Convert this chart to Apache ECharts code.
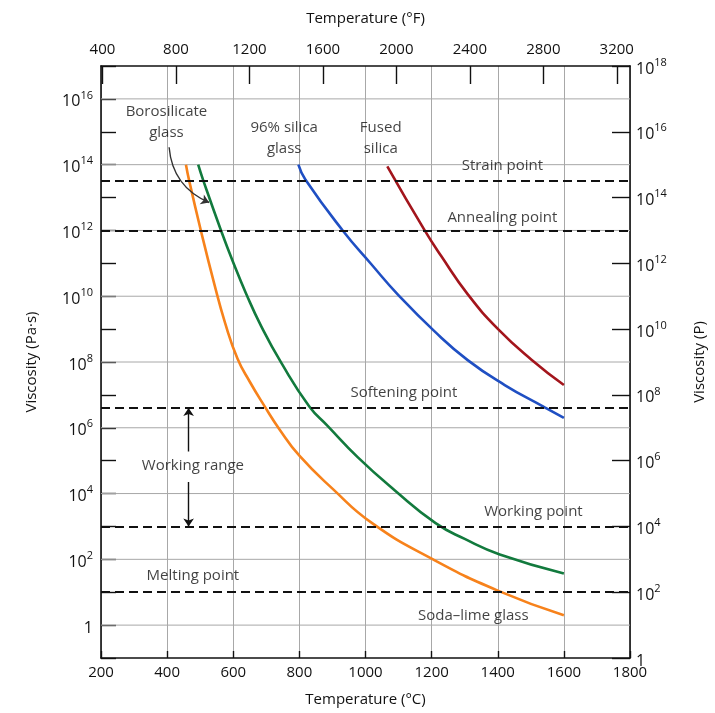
<!DOCTYPE html>
<html>
<head>
<meta charset="utf-8">
<title>Viscosity of glasses vs temperature</title>
<script src="https://cdn.jsdelivr.net/npm/echarts@6/dist/echarts.min.js"></script>
<style>
  html, body { margin: 0; padding: 0; background: #fff; }
  #chart { width: 715px; height: 713px; }
</style>
</head>
<body>
<div id="chart"></div>
<script>
// temperatures in °C, viscosity as log10 of Pa·s
var sodaLimeT   = [457, 467, 502, 542, 575, 613, 650, 695, 740, 800, 900, 1020, 1200, 1400, 1600];
var sodaLimeLog = [14.0, 13.5, 12.0, 10.4, 9.2, 8.1, 7.4, 6.65, 5.95, 5.15, 4.15, 3.1, 2.02, 1.05, 0.3];

var boroT   = [494, 510, 563, 603, 638, 684, 745, 830, 886, 977, 1088, 1212, 1300, 1406, 1600];
var boroLog = [14.0, 13.5, 12.0, 10.95, 10.1, 9.1, 7.98, 6.65, 6.05, 5.1, 4.1, 3.1, 2.62, 2.15, 1.57];

var silica96T   = [797, 818, 931, 1017, 1098, 1209, 1310, 1421, 1542, 1600];
var silica96Log = [14.0, 13.55, 12.0, 10.98, 10.05, 8.93, 8.05, 7.3, 6.62, 6.3];

var fusedT   = [1066, 1179, 1229, 1310, 1401, 1502, 1600];
var fusedLog = [13.95, 12.0, 11.22, 10.05, 9.0, 8.07, 7.3];

// strain, annealing, softening, working, melting (log10 Pa·s)
var refLevels = [13.5, 12, 6.6, 3, 1];

var fahrenheitTicks = [400, 800, 1200, 1600, 2000, 2400, 2800, 3200];
var gridLevels = [0, 2, 4, 6, 8, 10, 12, 14, 16];
var tempRange = [200, 1800];

// text notes: [°C, log10 Pa·s, text]
var notes = [
  [398, 15.3, 'Borosilicate\nglass'],
  [754, 14.8, '96% silica\nglass'],
  [1046, 14.8, 'Fused\nsilica'],
  [1414, 13.96, 'Strain point'],
  [1414, 12.4, 'Annealing point'],
  [1116, 7.06, 'Softening point'],
  [478, 4.85, 'Working range'],
  [1508, 3.46, 'Working point'],
  [478, 1.5, 'Melting point'],
  [1326, 0.3, 'Soda\u2013lime glass']
];

function pairs(xs, ys) {
  return xs.map(function (x, i) { return [x, ys[i]]; });
}

var FONT = 'Open Sans';
var TXT = '#111';
var GRID = '#a8a8a8';

function powLabel(v) {
  if (v === 0) return '{b|1}';
  return '{b|10}{s|' + v + '}';
}
var richPow = {
  b: { fontSize: 16, fontFamily: FONT, color: TXT, lineHeight: 22, verticalAlign: 'bottom' },
  s: { fontSize: 11, fontFamily: FONT, color: TXT, lineHeight: 22, verticalAlign: 'bottom', padding: [0, 0, 9, 0] }
};
function plain(v) { return String(v); }

var chart = echarts.init(document.getElementById('chart'));

function curve(name, color, xs, ys) {
  return {
    name: name, type: 'line', smooth: 0.5, symbol: 'none',
    xAxisIndex: 0, yAxisIndex: 0, z: 4,
    lineStyle: { color: color, width: 2.6 },
    data: pairs(xs, ys)
  };
}

// one plain line series per horizontal grid line
var gridSeries = gridLevels.map(function (v) {
  return {
    name: 'grid' + v, type: 'line', symbol: 'none', silent: true,
    xAxisIndex: 0, yAxisIndex: 0, z: 2,
    lineStyle: { color: GRID, width: 1 },
    data: [[tempRange[0], v], [tempRange[1], v]]
  };
});

var frameLine = { onZero: false, lineStyle: { color: '#111', width: 1.6 } };
var nameStyle = { fontSize: 15, color: TXT, fontFamily: FONT };

var option = {
  backgroundColor: '#fff',
  animation: false,
  textStyle: { fontFamily: FONT },
  grid: { left: 101, right: 85, top: 66, bottom: 55 },
  xAxis: [
    {
      type: 'value', position: 'bottom', min: 200, max: 1800, interval: 200,
      name: 'Temperature (\u00b0C)', nameLocation: 'middle', nameGap: 34, nameTextStyle: nameStyle,
      axisLine: frameLine,
      axisTick: { inside: true, length: 7, lineStyle: { color: '#111', width: 1.4 } },
      axisLabel: { fontSize: 15, color: TXT, margin: 7, formatter: plain },
      splitLine: { show: true, lineStyle: { color: GRID, width: 1 } }
    },
    {
      type: 'value', position: 'top', min: 392, max: 3272,
      name: 'Temperature (\u00b0F)', nameLocation: 'middle', nameGap: 40, nameTextStyle: nameStyle,
      axisLine: frameLine,
      axisTick: { inside: true, length: 18, customValues: fahrenheitTicks, lineStyle: { color: '#111', width: 1.4 } },
      axisLabel: { fontSize: 15, color: TXT, margin: 9, customValues: fahrenheitTicks, formatter: plain },
      splitLine: { show: false }
    }
  ],
  yAxis: [
    {
      type: 'value', position: 'left', min: -1, max: 17, interval: 1,
      name: 'Viscosity (Pa\u00b7s)', nameLocation: 'middle', nameGap: 62, nameTextStyle: nameStyle,
      axisLine: frameLine,
      axisTick: { inside: true, length: 15, lineStyle: { color: '#111', width: 1.4 } },
      axisLabel: {
        margin: 8, rich: richPow,
        formatter: function (v) { return (v < 0 || v > 16 || v % 2) ? '' : powLabel(v); }
      },
      splitLine: { show: false }
    },
    {
      type: 'value', position: 'right', min: 0, max: 18, interval: 2,
      name: 'Viscosity (P)', nameLocation: 'middle', nameGap: 62, nameTextStyle: nameStyle,
      axisLine: frameLine,
      axisTick: { inside: true, length: 18, lineStyle: { color: '#111', width: 1.4 } },
      axisLabel: { margin: 6, rich: richPow, formatter: powLabel },
      splitLine: { show: false }
    }
  ],
  series: gridSeries.concat([
    {
      name: 'levels', type: 'line', data: [], xAxisIndex: 0, yAxisIndex: 0, z: 3,
      markLine: {
        silent: true, symbol: 'none', label: { show: false },
        lineStyle: { color: '#111', type: [9, 5], width: 1.8 },
        data: refLevels.map(function (v) { return { yAxis: v }; })
      }
    },
    curve('Soda-lime glass', '#f7821b', sodaLimeT, sodaLimeLog),
    curve('Borosilicate glass', '#127a3d', boroT, boroLog),
    curve('96% silica glass', '#1f4fc3', silica96T, silica96Log),
    curve('Fused silica', '#a3151c', fusedT, fusedLog),
    {
      name: 'arrows', type: 'lines', coordinateSystem: 'cartesian2d', xAxisIndex: 0, yAxisIndex: 0,
      symbol: ['none', 'arrow'], symbolSize: 8, z: 5,
      lineStyle: { color: '#111', width: 1.4, opacity: 1 },
      data: [
        { coords: [[465, 5.28], [465, 6.6]] },
        { coords: [[465, 4.35], [465, 3.0]] },
        { coords: [[406, 14.53], [527, 12.85]], lineStyle: { curveness: -0.3, color: '#333' } }
      ]
    },
    {
      name: 'notes', type: 'scatter', xAxisIndex: 0, yAxisIndex: 0,
      symbolSize: 1, itemStyle: { color: 'rgba(0,0,0,0)' }, silent: true, z: 6,
      label: {
        show: true, position: 'inside', color: TXT, fontSize: 15, lineHeight: 21, fontFamily: FONT,
        formatter: function (p) { return p.data[2]; }
      },
      data: notes
    }
  ])
};

chart.setOption(option);
</script>
</body>
</html>
